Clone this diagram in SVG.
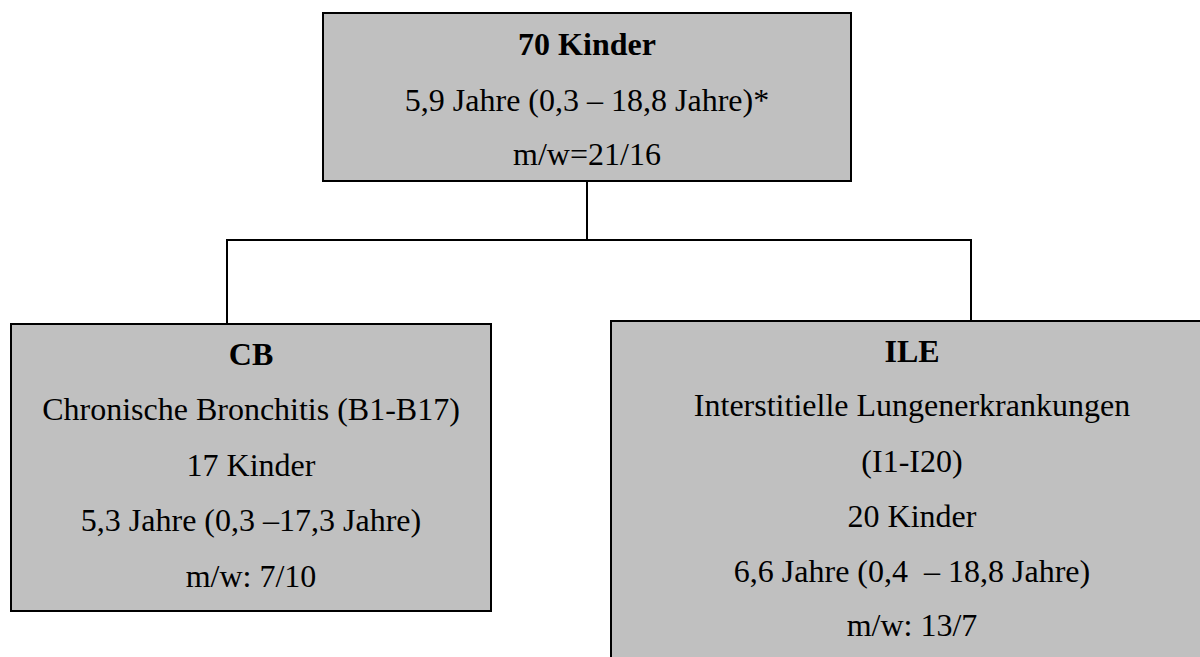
<svg xmlns="http://www.w3.org/2000/svg" width="1200" height="657" viewBox="0 0 1200 657">
  <style>
    .box { fill: #C0C0C0; stroke: #000; stroke-width: 2; }
    .t { font-size: 32px; fill: #000; text-anchor: middle; }
    .b { font-weight: bold; }
    .conn { fill: none; stroke: #000; stroke-width: 2; }
  </style>
  <rect width="1200" height="657" fill="#fff"/>
  <g id="connectors">
    <line class="conn" x1="587" y1="181" x2="587" y2="240"/>
    <polyline class="conn" points="227,324 227,240 971,240 971,321"/>
  </g>
  <g font-family="'Liberation Serif', serif">
  <g id="node-top">
    <rect class="box" x="323" y="13" width="528" height="168"/>
    <text class="t b" x="587" y="55">70 Kinder</text>
    <text class="t" x="587" y="111">5,9 Jahre (0,3 – 18,8 Jahre)*</text>
    <text class="t" x="587" y="165">m/w=21/16</text>
  </g>
  <g id="node-cb">
    <rect class="box" x="11" y="324" width="480" height="287"/>
    <text class="t b" x="251" y="365">CB</text>
    <text class="t" x="251" y="420">Chronische Bronchitis (B1-B17)</text>
    <text class="t" x="251" y="476">17 Kinder</text>
    <text class="t" x="251" y="531">5,3 Jahre (0,3 –17,3 Jahre)</text>
    <text class="t" x="251" y="587">m/w: 7/10</text>
  </g>
  <g id="node-ile">
    <rect class="box" x="611" y="321" width="602" height="350"/>
    <text class="t b" x="912" y="362">ILE</text>
    <text class="t" x="912" y="416">Interstitielle Lungenerkrankungen</text>
    <text class="t" x="912" y="472">(I1-I20)</text>
    <text class="t" x="912" y="527">20 Kinder</text>
    <text class="t" x="912" y="582">6,6 Jahre (0,4&#160; – 18,8 Jahre)</text>
    <text class="t" x="912" y="636">m/w: 13/7</text>
  </g>
  </g>
</svg>
